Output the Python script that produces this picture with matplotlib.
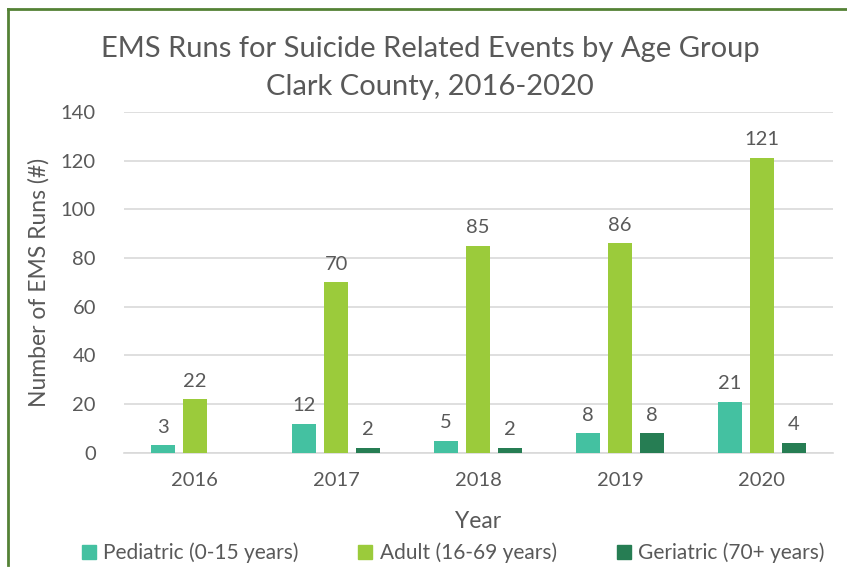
import matplotlib.pyplot as plt
import numpy as np
from matplotlib.lines import Line2D

years = ['2016', '2017', '2018', '2019', '2020']
pediatric = [3, 12, 5, 8, 21]
adult = [22, 70, 85, 86, 121]
geriatric = [None, 2, 2, 8, 4]   # no bar / label for 2016

series = [
    ('Pediatric (0-15 years)', pediatric, '#44C1A1'),
    ('Adult (16-69 years)', adult, '#9BCB3B'),
    ('Geriatric (70+ years)', geriatric, '#267D53'),
]

TXT = '#595959'
plt.rcParams['font.family'] = ['Lato', 'DejaVu Sans']

fig = plt.figure(figsize=(8.47, 5.71), dpi=100)
ax = fig.add_axes([0.146, 0.207, 0.837, 0.597])

x = np.arange(len(years))
w = 0.17
offs = [-0.225, 0, 0.225]

handles = []
for (name, vals, col), off in zip(series, offs):
    v = [0 if val is None else val for val in vals]
    ax.bar(x + off, v, width=w, color=col, zorder=3)
    for xi, val in zip(x, vals):
        if val is None:
            continue
        ax.annotate(str(val), (xi + off, val), xytext=(0, 7), textcoords='offset points',
                    ha='center', va='bottom', fontsize=14.5, color=TXT)
    handles.append(Line2D([], [], marker='s', linestyle='none', markersize=10,
                          markerfacecolor=col, markeredgecolor=col, label=name))

ax.set_xlim(-0.5, 4.5)
ax.set_ylim(0, 140)
ax.set_yticks(range(0, 141, 20))
ax.set_xticks(x)
ax.set_xticklabels(years)
ax.grid(axis='y', color='#D9D9D9', linewidth=1.2, zorder=0)
ax.tick_params(axis='both', length=0, labelsize=14.5, labelcolor=TXT)
ax.tick_params(axis='x', pad=14)
ax.tick_params(axis='y', pad=20)
for s in ['top', 'right', 'left']:
    ax.spines[s].set_visible(False)
ax.spines['bottom'].set_color('#D9D9D9')
ax.spines['bottom'].set_linewidth(1.2)

ax.set_xlabel('Year', fontsize=16.5, color=TXT, labelpad=16)
ax.set_ylabel('Number of EMS Runs (#)', fontsize=16.5, color=TXT, labelpad=8)

fig.text(0.508, 0.915, 'EMS Runs for Suicide Related Events by Age Group',
         ha='center', va='center', fontsize=21, color=TXT)
fig.text(0.508, 0.848, 'Clark County, 2016-2020',
         ha='center', va='center', fontsize=21, color=TXT)

fig.legend(handles=handles, loc='center', bbox_to_anchor=(0.527, 0.032), ncol=3,
           frameon=False, fontsize=15, labelcolor=TXT, handletextpad=-0.3,
           columnspacing=2.2)

# green chart border (top and left edges)
fig.add_artist(Line2D([8 / 847, 1], [1 - 9 / 571, 1 - 9 / 571], color='#548235',
                      linewidth=2, transform=fig.transFigure))
fig.add_artist(Line2D([8 / 847, 8 / 847], [1 - 9 / 571, 1 - 565 / 571], color='#548235',
                      linewidth=2, transform=fig.transFigure))

fig.savefig('out.png', dpi=100)
